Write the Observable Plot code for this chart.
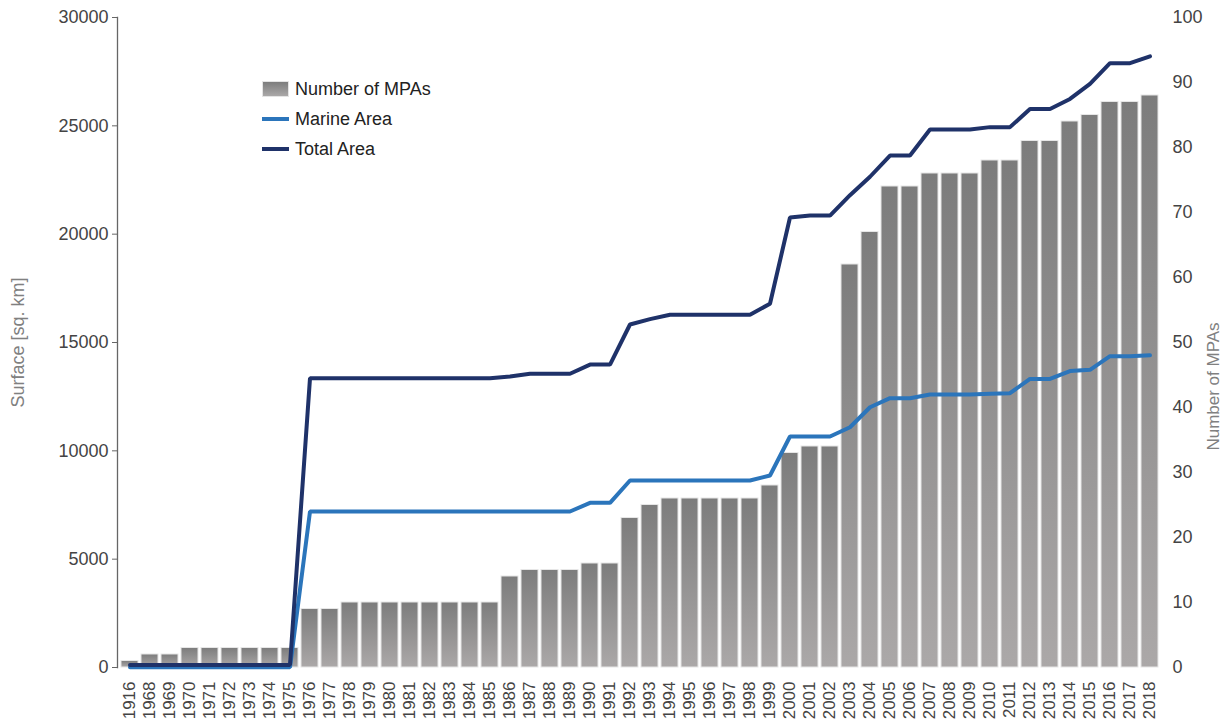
<!DOCTYPE html>
<html>
<head>
<meta charset="utf-8">
<script src="https://cdn.jsdelivr.net/npm/d3@7"></script>
<script src="https://cdn.jsdelivr.net/npm/@observablehq/plot@0.6"></script>
<style>
  html, body { margin: 0; padding: 0; background: #fff; }
  body { font-family: "Liberation Sans", Arial, sans-serif; }
  #wrap { position: relative; width: 1229px; height: 720px; }
  #legend { position: absolute; left: 262px; top: 74px; font-size: 18px; color: #222; line-height: 30px; }
  #legend .row { display: flex; align-items: center; height: 30px; }
  #legend .sw { width: 27px; margin-right: 6px; }
  #legend .bar { height: 16px; background: linear-gradient(#7d7d7d, #aaa8a8); border: 1px solid #e4e4e4; box-sizing: border-box; }
  #legend .ln { height: 4px; }
  svg [aria-label="y-axis label"] { fill: #808080; }
</style>
</head>
<body>
<svg width="0" height="0" style="position:absolute">
  <defs>
    <linearGradient id="barGrad" x1="0" y1="0" x2="0" y2="1">
      <stop offset="0" stop-color="#7c7c7c"/>
      <stop offset="1" stop-color="#aba8a8"/>
    </linearGradient>
  </defs>
</svg>
<div id="wrap">
  <div id="chart"></div>
  <div id="legend">
    <div class="row"><div class="sw bar"></div>Number of MPAs</div>
    <div class="row"><div class="sw ln" style="background:#2b75bb"></div>Marine Area</div>
    <div class="row"><div class="sw ln" style="background:#1f3269"></div>Total Area</div>
  </div>
</div>
<script>
const years = ["1916","1968","1969","1970","1971","1972","1973","1974","1975","1976","1977","1978","1979","1980","1981","1982","1983","1984","1985","1986","1987","1988","1989","1990","1991","1992","1993","1994","1995","1996","1997","1998","1999","2000","2001","2002","2003","2004","2005","2006","2007","2008","2009","2010","2011","2012","2013","2014","2015","2016","2017","2018"];

const mpaCount = [1,2,2,3,3,3,3,3,3,9,9,10,10,10,10,10,10,10,10,14,15,15,15,16,16,23,25,26,26,26,26,26,28,33,34,34,62,67,74,74,76,76,76,78,78,81,81,84,85,87,87,88];

const totalArea = [120,120,120,120,120,120,120,120,120,
  13350,13350,13350,13350,13350,13350,13350,13350,13350,13350,
  13430,13560,13560,13560,13980,13980,15830,16080,
  16280,16280,16280,16280,16280,16790,20770,20860,20860,
  21800,22650,23630,23630,24830,24830,24830,24940,24940,
  25780,25780,26240,26940,27890,27890,28210];

const marineArea = [10,10,10,10,10,10,10,10,10,
  7200,7200,7200,7200,7200,7200,7200,7200,7200,7200,7200,7200,7200,7200,
  7600,7600,8630,8630,8630,8630,8630,8630,8630,8860,
  10660,10660,10660,11090,12010,12430,12430,12600,12600,12600,
  12630,12660,13320,13320,13680,13740,14370,14370,14410];

const leftTicks = [0,5000,10000,15000,20000,25000,30000];
const rightTicks = [0,10,20,30,40,50,60,70,80,90,100];
const leftMax = 30000, rightMax = 100;
const k = leftMax / rightMax; // right axis → left axis units

const data = years.map((y, i) => ({year: y, count: mpaCount[i], total: totalArea[i], marine: marineArea[i]}));

const chart = Plot.plot({
  width: 1229,
  height: 720,
  marginTop: 17,
  marginBottom: 53,
  marginLeft: 117,
  marginRight: 67,
  style: {fontFamily: "Liberation Sans, Arial, sans-serif", fontSize: "18px", color: "#444", background: "transparent"},
  x: {domain: years, type: "band", paddingInner: 0.17, paddingOuter: 0.08},
  y: {domain: [0, leftMax]},
  marks: [
    Plot.barY(data, {x: "year", y: d => d.count * k, fill: "url(#barGrad)", stroke: "#e6e6e6", strokeWidth: 1}),
    Plot.line(data, {x: "year", y: "marine", stroke: "#2b75bb", strokeWidth: 4, strokeLinejoin: "miter"}),
    Plot.line(data, {x: "year", y: "total", stroke: "#1f3269", strokeWidth: 4, strokeLinejoin: "miter"}),
    Plot.frame({anchor: "left", stroke: "#666", strokeWidth: 1.3}),
    Plot.axisY({anchor: "left", ticks: leftTicks, tickFormat: d => String(d), tickSize: 5, tickPadding: 4, stroke: "#666", fontSize: 18,
      label: "Surface [sq. km]", labelAnchor: "center", labelArrow: "none", labelOffset: 106}),
    Plot.axisY({anchor: "right", ticks: rightTicks.map(v => v * k), tickFormat: v => String(Math.round(v / k)), tickSize: 0, tickPadding: 10, fontSize: 18, label: null}),
    Plot.text(["Number of MPAs"], {frameAnchor: "right", rotate: -90, textAnchor: "middle", dx: 51, dy: 44, fill: "#808080", fontSize: 17}),
    Plot.axisX({anchor: "bottom", tickRotate: -90, tickSize: 0, tickPadding: 14, fontSize: 17, label: null})
  ]
});
document.getElementById("chart").appendChild(chart);
</script>
</body>
</html>
